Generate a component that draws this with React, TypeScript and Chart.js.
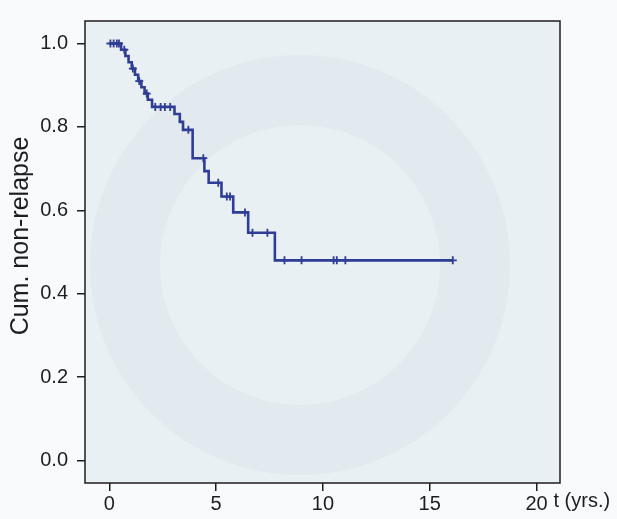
import React, { useEffect, useRef } from "react";
import { Chart, registerables } from "chart.js";

Chart.register(...registerables);

// Kaplan–Meier step curve: time of each event and survival after it
const eventTimes = [0, 0.55, 0.75, 0.9, 1.05, 1.2, 1.35, 1.5, 1.65, 1.8, 2.0, 3.05, 3.3, 3.45, 3.9, 4.45, 4.65, 5.25, 5.8, 6.5, 7.75, 16.08];
const survival = [1.0, 0.985, 0.97, 0.955, 0.94, 0.925, 0.91, 0.895, 0.88, 0.865, 0.848, 0.831, 0.812, 0.793, 0.725, 0.694, 0.666, 0.633, 0.595, 0.546, 0.48, 0.48];

// censored observations (times)
const censorTimes = [0.05, 0.2, 0.35, 0.45, 0.7, 1.1, 1.4, 1.75, 2.15, 2.4, 2.6, 2.85, 3.7, 4.4, 5.1, 5.5, 5.65, 6.35, 6.7, 7.4, 8.2, 9.0, 10.5, 10.65, 11.05, 16.08];

const xTicks = [0, 5, 10, 15, 20];
const yTicks = [0, 0.2, 0.4, 0.6, 0.8, 1.0];

const yTitle = "Cum. non-relapse";
const xTitle = "t (yrs.)";

const FONT = "'Liberation Sans', Arial, Helvetica, sans-serif";
const LINE = "#2f3d95";

function survAt(t: number): number {
  let s = survival[0];
  for (let i = 0; i < eventTimes.length; i++) {
    if (eventTimes[i] <= t) s = survival[i];
  }
  return s;
}

export default function App() {
  const ref = useRef<HTMLCanvasElement | null>(null);

  useEffect(() => {
    if (!ref.current) return;
    const decor = {
      id: "decor",
      beforeDraw(chart: any) {
        const { ctx, chartArea: a } = chart;
        ctx.save();
        ctx.fillStyle = "#f8fafb";
        ctx.fillRect(0, 0, chart.width, chart.height);
        ctx.fillStyle = "#e9f0f4";
        ctx.fillRect(a.left, a.top, a.right - a.left, a.bottom - a.top);
        // faint watermark ring
        ctx.beginPath();
        ctx.rect(a.left, a.top, a.right - a.left, a.bottom - a.top);
        ctx.clip();
        ctx.strokeStyle = "rgba(200,214,224,0.22)";
        ctx.lineWidth = 70;
        ctx.beginPath();
        ctx.arc(300, 265, 175, 0, Math.PI * 2);
        ctx.stroke();
        ctx.restore();
      },
      afterDraw(chart: any) {
        const { ctx, chartArea: a, scales } = chart;
        ctx.save();
        ctx.strokeStyle = "#1e1e1e";
        ctx.lineWidth = 1.5;
        ctx.strokeRect(a.left, a.top, a.right - a.left, a.bottom - a.top);
        ctx.fillStyle = "#1e1e1e";
        ctx.font = `20px ${FONT}`;
        ctx.textAlign = "left";
        ctx.textBaseline = "middle";
        const x20 = scales.x.getPixelForValue(20);
        ctx.fillText(xTitle, x20 + 17, 501);
        ctx.translate(21, 236);
        ctx.rotate(-Math.PI / 2);
        ctx.textAlign = "center";
        ctx.font = `25px ${FONT}`;
        ctx.fillText(yTitle, 0, 0);
        ctx.restore();
      },
    };

    const chart = new Chart(ref.current, {
      type: "line",
      data: {
        datasets: [
          {
            label: "KM",
            data: eventTimes.map((t, i) => ({ x: t, y: survival[i] })),
            stepped: "before",
            borderColor: LINE,
            borderWidth: 2.6,
            pointRadius: 0,
            fill: false,
          },
          {
            label: "censored",
            type: "scatter",
            data: censorTimes.map((t) => ({ x: t, y: survAt(t) })),
            pointStyle: "cross",
            pointRadius: 4,
            borderColor: LINE,
            borderWidth: 1.8,
            showLine: false,
          } as any,
        ],
      },
      plugins: [decor],
      options: {
        animation: false,
        responsive: false,
        devicePixelRatio: 1,
        layout: { padding: { top: 12, right: 57, left: 0, bottom: 0 } },
        plugins: { legend: { display: false }, tooltip: { enabled: false } },
        scales: {
          x: {
            type: "linear",
            min: -1.14,
            max: 21.1,
            afterBuildTicks: (s: any) => {
              s.ticks = xTicks.map((v) => ({ value: v }));
            },
            afterFit: (s: any) => {
              s.height = 36;
            },
            grid: { drawOnChartArea: false, drawTicks: true, tickLength: 8, color: "#1e1e1e", lineWidth: 1.5 },
            border: { display: false },
            ticks: { color: "#1e1e1e", font: { family: FONT, size: 20 }, padding: 1, maxRotation: 0 },
          },
          y: {
            type: "linear",
            min: -0.054,
            max: 1.054,
            afterBuildTicks: (s: any) => {
              s.ticks = yTicks.map((v) => ({ value: v }));
            },
            afterFit: (s: any) => {
              s.width = 85;
            },
            grid: { drawOnChartArea: false, drawTicks: true, tickLength: 8, color: "#1e1e1e", lineWidth: 1.5 },
            border: { display: false },
            ticks: {
              color: "#1e1e1e",
              font: { family: FONT, size: 20 },
              padding: 9,
              callback: (v: any) => Number(v).toFixed(1),
            },
          },
        },
      },
    });
    return () => chart.destroy();
  }, []);

  return (
    <div style={{ position: "fixed", left: 0, top: 0, width: 617, height: 519 }}>
      <canvas ref={ref} width={617} height={519} style={{ width: 617, height: 519, display: "block" }} />
    </div>
  );
}
